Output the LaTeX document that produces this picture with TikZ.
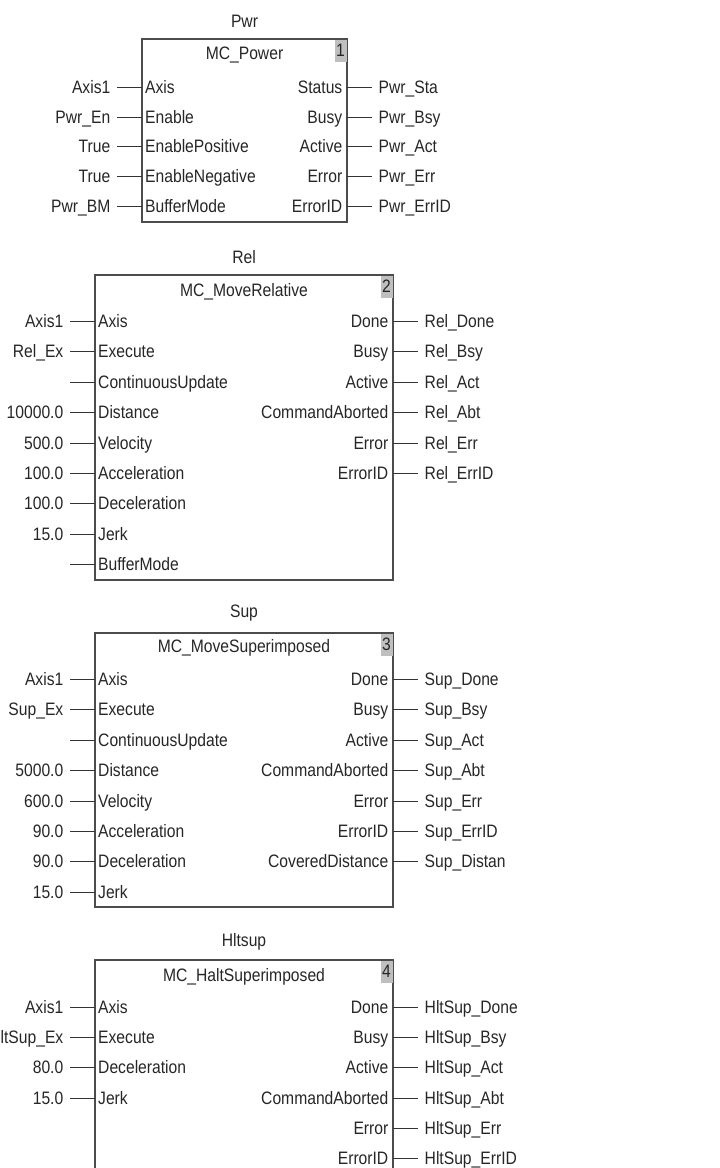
\documentclass[tikz,border=0pt]{standalone}
\usepackage{fontspec}
\setmainfont{Liberation Sans}[FakeStretch=0.87]
\usetikzlibrary{positioning}
% one input pin: box, id, y, pin text, signal
\newcommand{\inpin}[5]{%
  \node[pinin] (#1-#2) at (#1.west |- 0,#3) {#4};
  \node[sig, left=25pt of #1-#2] (#1-#2-s) {#5};
  \draw[wire] (#1-#2-s) -- (#1-#2);
}
% one output pin: box, id, y, pin text, signal
\newcommand{\outpin}[5]{%
  \node[pinout] (#1-#2) at (#1.east |- 0,#3) {#4};
  \node[sig, right=25pt of #1-#2] (#1-#2-s) {#5};
  \draw[wire] (#1-#2) -- (#1-#2-s);
}

\begin{document}
\begin{tikzpicture}[
  x=1pt, y=-1pt,
  font=\fontsize{18}{21}\selectfont,
  text=black!85,
  fb/.style={draw=black!70, line width=1.1pt, outer sep=0pt, inner sep=0pt,
             anchor=north west, minimum width=298pt},
  tag/.style={fill=black!25, anchor=north east, minimum width=12pt,
              minimum height=22pt, inner sep=1pt, outer sep=0pt},
  pinin/.style={anchor=west, inner xsep=3pt, inner ysep=0pt,
                text height=13.5pt, text depth=1pt},
  pinout/.style={pinin, anchor=east, inner xsep=4.5pt},
  sig/.style={inner xsep=6.5pt, inner ysep=0pt, text height=13.5pt, text depth=1pt},
  wire/.style={draw=black!80, line width=1pt},
]
\useasboundingbox (0,0) rectangle (720,1168);
\clip (0,0) rectangle (720,1168);

% MC_Power
\node[fb, minimum width=205pt, minimum height=183pt] (pwr) at (142,39) {};
\node (pwr-name) at ([yshift=18pt]pwr.north) {Pwr};
\node (pwr-type) at ([yshift=-16pt]pwr.north) {MC\_Power};
\node[tag] (pwr-no) at ([xshift=-0.5pt,yshift=-0.5pt]pwr.north east) {1};
\inpin{pwr}{in1}{87}{Axis}{Axis1}
\inpin{pwr}{in2}{117}{Enable}{Pwr\_En}
\inpin{pwr}{in3}{146}{EnablePositive}{True}
\inpin{pwr}{in4}{176}{EnableNegative}{True}
\inpin{pwr}{in5}{206}{BufferMode}{Pwr\_BM}
\outpin{pwr}{out1}{87}{Status}{Pwr\_Sta}
\outpin{pwr}{out2}{117}{Busy}{Pwr\_Bsy}
\outpin{pwr}{out3}{146}{Active}{Pwr\_Act}
\outpin{pwr}{out4}{176}{Error}{Pwr\_Err}
\outpin{pwr}{out5}{206}{ErrorID}{Pwr\_ErrID}

% MC_MoveRelative
\node[fb, minimum height=305pt] (rel) at (95,275) {};
\node (rel-name) at ([yshift=18pt]rel.north) {Rel};
\node (rel-type) at ([yshift=-17pt]rel.north) {MC\_MoveRelative};
\node[tag] (rel-no) at ([xshift=-0.5pt,yshift=-0.5pt]rel.north east) {2};
\inpin{rel}{in1}{321}{Axis}{Axis1}
\inpin{rel}{in2}{351}{Execute}{Rel\_Ex}
\inpin{rel}{in3}{382}{ContinuousUpdate}{}
\inpin{rel}{in4}{412}{Distance}{10000.0}
\inpin{rel}{in5}{443}{Velocity}{500.0}
\inpin{rel}{in6}{473}{Acceleration}{100.0}
\inpin{rel}{in7}{503}{Deceleration}{100.0}
\inpin{rel}{in8}{534}{Jerk}{15.0}
\inpin{rel}{in9}{564}{BufferMode}{}
\outpin{rel}{out1}{321}{Done}{Rel\_Done}
\outpin{rel}{out2}{351}{Busy}{Rel\_Bsy}
\outpin{rel}{out3}{382}{Active}{Rel\_Act}
\outpin{rel}{out4}{412}{CommandAborted}{Rel\_Abt}
\outpin{rel}{out5}{443}{Error}{Rel\_Err}
\outpin{rel}{out6}{473}{ErrorID}{Rel\_ErrID}

% MC_MoveSuperimposed
\node[fb, minimum height=274pt] (sup) at (95,633) {};
\node (sup-name) at ([yshift=20pt]sup.north) {Sup};
\node (sup-type) at ([yshift=-15pt]sup.north) {MC\_MoveSuperimposed};
\node[tag] (sup-no) at ([xshift=-0.5pt,yshift=-0.5pt]sup.north east) {3};
\inpin{sup}{in1}{679}{Axis}{Axis1}
\inpin{sup}{in2}{709}{Execute}{Sup\_Ex}
\inpin{sup}{in3}{740}{ContinuousUpdate}{}
\inpin{sup}{in4}{770}{Distance}{5000.0}
\inpin{sup}{in5}{801}{Velocity}{600.0}
\inpin{sup}{in6}{831}{Acceleration}{90.0}
\inpin{sup}{in7}{861}{Deceleration}{90.0}
\inpin{sup}{in8}{892}{Jerk}{15.0}
\outpin{sup}{out1}{679}{Done}{Sup\_Done}
\outpin{sup}{out2}{709}{Busy}{Sup\_Bsy}
\outpin{sup}{out3}{740}{Active}{Sup\_Act}
\outpin{sup}{out4}{770}{CommandAborted}{Sup\_Abt}
\outpin{sup}{out5}{801}{Error}{Sup\_Err}
\outpin{sup}{out6}{831}{ErrorID}{Sup\_ErrID}
\outpin{sup}{out7}{861}{CoveredDistance}{Sup\_Distan}

% MC_HaltSuperimposed
\node[fb, minimum height=220pt] (hlt) at (95,960) {};
\node (hlt-name) at ([yshift=18pt]hlt.north) {Hltsup};
\node (hlt-type) at ([yshift=-17pt]hlt.north) {MC\_HaltSuperimposed};
\node[tag] (hlt-no) at ([xshift=-0.5pt,yshift=-0.5pt]hlt.north east) {4};
\inpin{hlt}{in1}{1007}{Axis}{Axis1}
\inpin{hlt}{in2}{1037}{Execute}{HltSup\_Ex}
\inpin{hlt}{in3}{1067}{Deceleration}{80.0}
\inpin{hlt}{in4}{1098}{Jerk}{15.0}
\outpin{hlt}{out1}{1007}{Done}{HltSup\_Done}
\outpin{hlt}{out2}{1037}{Busy}{HltSup\_Bsy}
\outpin{hlt}{out3}{1067}{Active}{HltSup\_Act}
\outpin{hlt}{out4}{1098}{CommandAborted}{HltSup\_Abt}
\outpin{hlt}{out5}{1128}{Error}{HltSup\_Err}
\outpin{hlt}{out6}{1158}{ErrorID}{HltSup\_ErrID}
\end{tikzpicture}
\end{document}
